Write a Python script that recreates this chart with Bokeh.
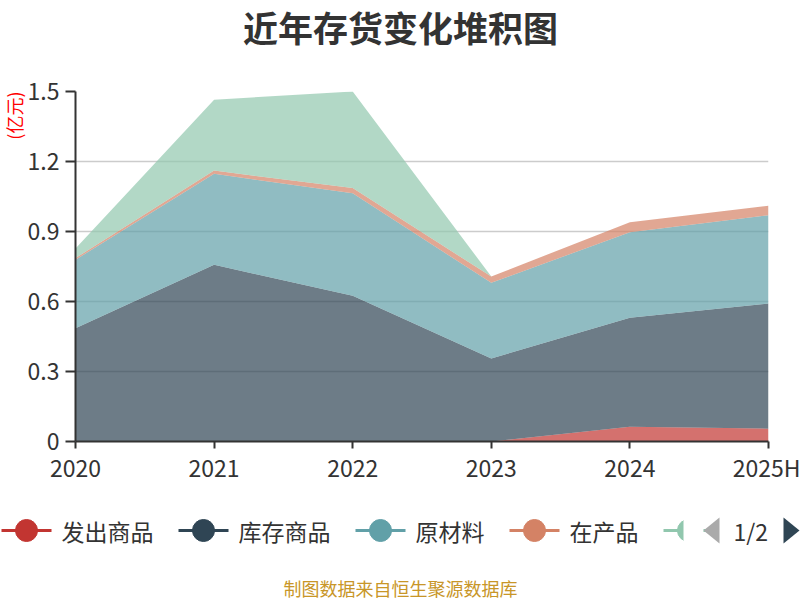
from bokeh.plotting import figure
from bokeh.models import ColumnDataSource, Range1d, FixedTicker, CustomJSTickFormatter, Title
from bokeh.core.properties import value
from bokeh.embed import file_html
from bokeh.resources import INLINE

# ---- data ----
years = ["2020", "2021", "2022", "2023", "2024", "2025H"]
series_names = ["发出商品", "库存商品", "原材料", "在产品", "周转材料"]
fachu = [0.0, 0.0, 0.0, 0.0, 0.063, 0.055]
kucun = [0.485, 0.757, 0.625, 0.356, 0.467, 0.536]
yuancailiao = [0.294, 0.390, 0.439, 0.324, 0.367, 0.379]
zaichan = [0.007, 0.014, 0.022, 0.027, 0.043, 0.040]
zhouzhuan = [0.041, 0.304, 0.414, 0.0, 0.0, 0.0]
y_ticks = [0, 0.3, 0.6, 0.9, 1.2, 1.5]
colors = ["#c23531", "#2f4554", "#61a0a8", "#d48265", "#91c7ae"]
title_text = "近年存货变化堆积图"
unit_text = "(亿元)"
footer_text = "制图数据来自恒生聚源数据库"

FONT = "Noto Sans CJK SC"
W = 800


def strip(h):
    f = figure(width=W, height=h, x_range=Range1d(0, W), y_range=Range1d(0, h),
               output_backend="svg", toolbar_location=None, x_axis_type=None, y_axis_type=None,
               min_border=0, min_border_left=0, min_border_right=0, min_border_top=0, min_border_bottom=0)
    f.outline_line_color = None
    return f


# ---- header (page y 0..HH) ----
HH = 58
head = strip(HH)
head.text(x=[400], y=[HH - 26], text=[title_text], text_font=value(FONT),
          text_font_size="35px", text_font_style="bold", text_color="#333333",
          text_baseline="middle", text_align="center")

# ---- main chart (page y HH..HH+430) ----
src = ColumnDataSource(dict(
    x=list(range(len(years))),
    s0=fachu, s1=kucun, s2=yuancailiao, s3=zaichan, s4=zhouzhuan,
))

p = figure(frame_width=693, frame_height=350, x_range=Range1d(0, len(years) - 1), y_range=Range1d(0, 1.5),
           output_backend="svg", toolbar_location=None,
           min_border_left=75, min_border_right=32, min_border_top=33, min_border_bottom=47)
p.outline_line_color = None
p.background_fill_color = "white"

p.varea_stack(stackers=["s0", "s1", "s2", "s3", "s4"], x="x", color=colors, fill_alpha=0.7, source=src)

p.add_layout(Title(text=unit_text, align="right", text_font_size="18px", text_font_style="normal",
                   text_color="red", text_font=FONT, standoff=-5), "left")

xa = p.xaxis[0]
xa.ticker = FixedTicker(ticks=list(range(len(years))))
xa.major_label_overrides = {i: y for i, y in enumerate(years)}
xa.axis_line_color = "#333333"
xa.axis_line_width = 2
xa.major_tick_line_color = "#333333"
xa.major_tick_line_width = 2
xa.major_tick_out = 7
xa.major_tick_in = 0
xa.minor_tick_line_color = None
xa.major_label_text_font_size = "23px"
xa.major_label_text_color = "#333333"
xa.major_label_text_font = FONT
xa.major_label_standoff = 1

ya = p.yaxis[0]
ya.ticker = FixedTicker(ticks=y_ticks)
ya.formatter = CustomJSTickFormatter(code="return tick == 0 ? '0' : tick.toFixed(1);")
ya.axis_line_color = "#333333"
ya.axis_line_width = 2
ya.major_tick_line_color = "#333333"
ya.major_tick_line_width = 2
ya.major_tick_out = 10
ya.major_tick_in = 0
ya.minor_tick_line_color = None
ya.major_label_text_font_size = "23px"
ya.major_label_text_color = "#333333"
ya.major_label_text_font = FONT
ya.major_label_standoff = 6

p.xgrid.grid_line_color = None
p.ygrid.grid_line_color = "#cccccc"
p.ygrid.grid_line_width = 1.5
p.ygrid.ticker = FixedTicker(ticks=y_ticks)

# ---- legend strip (page y LTOP..600) ----
LTOP = HH + 430
LH = 600 - LTOP
leg = strip(LH)


def fy(ry):
    return LH - (ry - LTOP)


cy = fy(530)
start = 1
text_px = 23
for i, name in enumerate(series_names):
    c = colors[i]
    leg.segment(x0=[start], y0=[cy], x1=[start + 50], y1=[cy], line_color=c, line_width=3)
    leg.scatter(x=[start + 25], y=[cy], size=22, color=c, marker="circle")
    if i < 4:
        leg.text(x=[start + 60], y=[cy], text=[name], text_font=value(FONT),
                 text_font_size=f"{text_px}px", text_color="#333333", text_baseline="middle", text_align="left")
        start += 60 + text_px * len(name) + 25
    else:
        # the rest of this legend page is clipped away
        leg.quad(left=[start + 20], right=[start + 40], bottom=[cy - 16], top=[cy + 16],
                 fill_color="white", line_color=None)

# pager
leg.patch(x=[703, 719, 719], y=[cy, cy + 13, cy - 13], fill_color="#aaaaaa", line_color=None)
leg.text(x=[733], y=[cy], text=["1/2"], text_font=value(FONT), text_font_size="23px",
         text_color="#333333", text_baseline="middle", text_align="left")
leg.patch(x=[783, 783, 799], y=[cy + 13, cy - 13, cy], fill_color="#2f4554", line_color=None)

leg.text(x=[400], y=[fy(587)], text=[footer_text], text_font=value(FONT),
         text_font_size="18px", text_color="#c89628", text_baseline="middle", text_align="center")

open("out.html", "w").write(file_html([head, p, leg], INLINE))
